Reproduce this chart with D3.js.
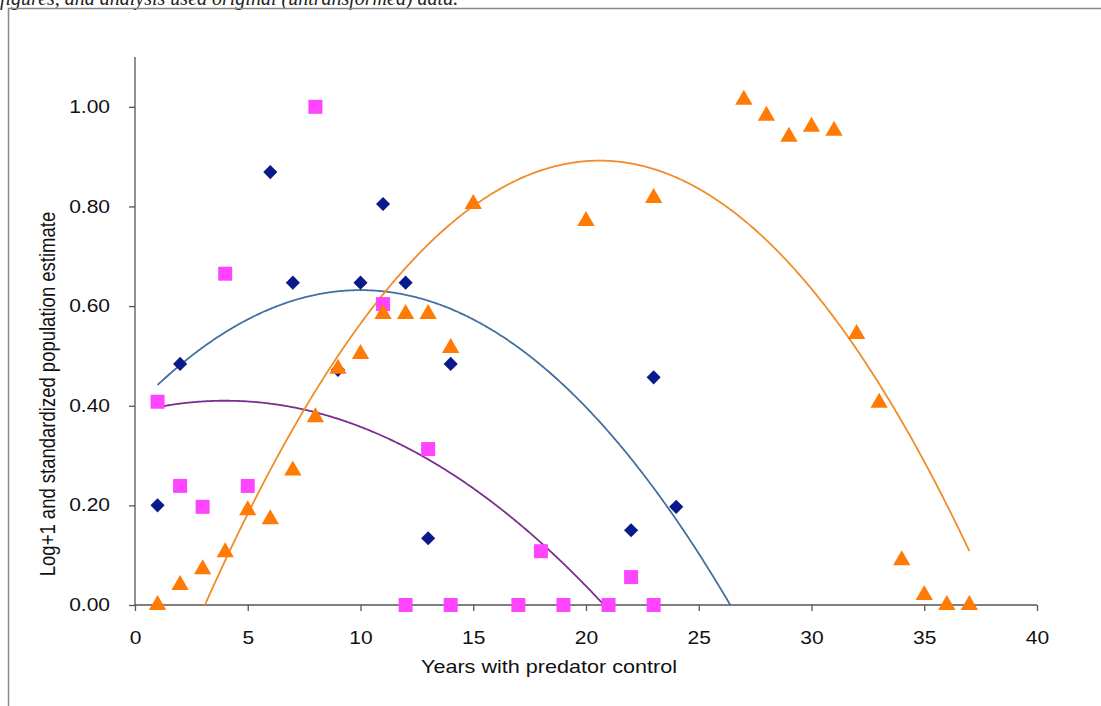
<!DOCTYPE html>
<html>
<head>
<meta charset="utf-8">
<script src="https://cdn.jsdelivr.net/npm/d3@7"></script>
<style>
  body { margin: 0; background: #fff; }
  text { font-family: "Liberation Sans", Arial, sans-serif; }
</style>
</head>
<body>
<div id="chart"></div>
<script>
// data
var diamondYears = [1, 2, 6, 7, 9, 10, 11, 12, 13, 14, 22, 23, 24];
var diamondValues = [0.20, 0.484, 0.869, 0.647, 0.472, 0.647, 0.805, 0.647, 0.134, 0.484, 0.15, 0.457, 0.197];

var squareYears = [1, 2, 3, 4, 5, 8, 11, 12, 13, 14, 17, 18, 19, 21, 22, 23];
var squareValues = [0.408, 0.239, 0.197, 0.665, 0.239, 1.00, 0.604, 0, 0.313, 0, 0, 0.108, 0, 0, 0.056, 0];

var triangleYears = [1, 2, 3, 4, 5, 6, 7, 8, 9, 10, 11, 12, 13, 14, 15, 20, 23, 27, 28, 29, 30, 31, 32, 33, 34, 35, 36, 37];
var triangleValues = [0, 0.04, 0.072, 0.106, 0.19, 0.172, 0.27, 0.377, 0.474, 0.504, 0.584, 0.584, 0.584, 0.516, 0.805,
                      0.771, 0.817, 1.014, 0.982, 0.94, 0.96, 0.952, 0.544, 0.406, 0.09, 0.02, 0, 0];

// 2nd order trendlines: [c, b, a] for y = c + b*x + a*x^2
var diamondTrendCoef = [0.397, 0.047, -0.00235];
var squareTrendCoef = [0.3868, 0.01162, -0.001453];
var triangleTrendCoef = [-0.3441, 0.12001, -0.002913];

// x span of each trendline
var diamondTrendSpan = [1, 28];
var squareTrendSpan = [1, 23];
var triangleTrendSpan = [1, 37];

var xTicks = [0, 5, 10, 15, 20, 25, 30, 35, 40];
var yTicks = [0, 0.2, 0.4, 0.6, 0.8, 1.0];

function init() {
    var w = 1101;
    var h = 706;
    var margin = { top: 57, left: 135, right: 64, bottom: 101 };
    var innerWidth = w - margin.left - margin.right;
    var innerHeight = h - margin.top - margin.bottom;
    var stretch = 1.2; // the scanned figure is a little wider than tall

    var xScale = d3.scaleLinear().domain([0, 40]).range([0, innerWidth]);
    var yScale = d3.scaleLinear().domain([0, 1.1]).range([innerHeight, 0]);

    var svg = d3.select("#chart")
        .append("svg")
        .attr("width", w)
        .attr("height", h);

    // cropped caption line from the page above the figure
    svg.append("text")
        .attr("x", 0)
        .attr("y", 5)
        .style("font-family", "'Liberation Serif', 'Times New Roman', serif")
        .style("font-size", "20px")
        .style("font-style", "italic")
        .attr("fill", "#222")
        .text("figures, and analysis used original (untransformed) data.");

    // figure frame
    svg.append("rect")
        .attr("x", 8.5)
        .attr("y", 8.5)
        .attr("width", 1100)
        .attr("height", 710)
        .attr("fill", "none")
        .attr("stroke", "#8a8a8a")
        .attr("stroke-width", 1.5);

    var g = svg.append("g")
        .attr("transform", "translate(" + margin.left + "," + margin.top + ")");

    g.append("clipPath")
        .attr("id", "plotclip")
        .append("rect")
        .attr("x", 0)
        .attr("y", 0)
        .attr("width", innerWidth)
        .attr("height", innerHeight);

    // axes
    var yAxis = d3.axisLeft(yScale)
        .tickValues(yTicks)
        .tickFormat(d3.format(".2f"))
        .tickSize(6)
        .tickPadding(19);
    var yG = g.append("g").call(yAxis);
    yG.select(".domain").attr("d", "M0,0V" + innerHeight).attr("stroke", "#555").attr("stroke-width", 1.3);

    var xAxis = d3.axisBottom(xScale)
        .tickValues(xTicks)
        .tickSize(6)
        .tickPadding(21);
    var xG = g.append("g")
        .attr("transform", "translate(0," + innerHeight + ")")
        .call(xAxis);
    xG.select(".domain").attr("d", "M0,0H" + innerWidth).attr("stroke", "#555").attr("stroke-width", 1.3);

    [xG, yG].forEach(function(a) {
        a.selectAll(".tick line").attr("stroke", "#555").attr("stroke-width", 1.3);
        a.selectAll(".tick text")
            .style("font-size", "17.5px")
            .attr("fill", "#111")
            .each(function() {
                var t = d3.select(this);
                var tx = +t.attr("x") || 0;
                var ty = +t.attr("y") || 0;
                t.attr("x", 0).attr("y", 0)
                    .attr("transform", "translate(" + tx + "," + ty + ") scale(" + stretch + ",1)");
            });
    });
    yG.selectAll(".tick line").attr("x1", 0);

    g.append("text")
        .attr("transform", "translate(" + (innerWidth / 2 - 37) + "," + (innerHeight + 68) + ") scale(" + stretch + ",1)")
        .attr("text-anchor", "middle")
        .style("font-size", "18px")
        .attr("fill", "#111")
        .text("Years with predator control");

    g.append("text")
        .attr("transform", "translate(" + (47 - margin.left) + "," + (394 - margin.top) + ") scale(" + stretch + ",1) rotate(-90)")
        .attr("text-anchor", "middle")
        .attr("dominant-baseline", "central")
        .style("font-size", "18.5px")
        .attr("fill", "#111")
        .text("Log+1 and standardized population estimate");

    var line = d3.line()
        .x(function(d) { return xScale(d[0]); })
        .y(function(d) { return yScale(d[1]); });

    var trends = [
        { coef: squareTrendCoef, span: squareTrendSpan, color: "#7a2f8c" },
        { coef: diamondTrendCoef, span: diamondTrendSpan, color: "#44709f" },
        { coef: triangleTrendCoef, span: triangleTrendSpan, color: "#f08c2a" }
    ];

    // trendlines are cut off where they leave the plot area, as in the original
    var trendG = g.append("g").attr("clip-path", "url(#plotclip)");
    trends.forEach(function(t) {
        var c = t.coef;
        var pts = d3.range(t.span[0], t.span[1] + 0.001, 0.05).map(function(x) {
            return [x, c[0] + c[1] * x + c[2] * x * x];
        });
        trendG.append("path")
            .attr("d", line(pts))
            .attr("fill", "none")
            .attr("stroke", t.color)
            .attr("stroke-width", 1.8);
    });

    // markers
    var diamond = d3.symbol().type(d3.symbolSquare).size(100);
    g.append("g").selectAll("path")
        .data(diamondYears)
        .enter()
        .append("path")
        .attr("d", diamond)
        .attr("transform", function(d, i) {
            return "translate(" + xScale(d) + "," + yScale(diamondValues[i]) + ") rotate(45)";
        })
        .attr("fill", "#0a1a8a");

    var square = d3.symbol().type(d3.symbolSquare).size(196);
    g.append("g").selectAll("path")
        .data(squareYears)
        .enter()
        .append("path")
        .attr("d", square)
        .attr("transform", function(d, i) {
            return "translate(" + xScale(d) + "," + yScale(squareValues[i]) + ")";
        })
        .attr("fill", "#ff44ff");

    var tri = d3.symbol().type(d3.symbolTriangle).size(130);
    g.append("g").selectAll("path")
        .data(triangleYears)
        .enter()
        .append("path")
        .attr("d", tri)
        .attr("transform", function(d, i) {
            return "translate(" + xScale(d) + "," + yScale(triangleValues[i]) + ")";
        })
        .attr("fill", "#ff7b05");
}

window.onload = init;
</script>
</body>
</html>
